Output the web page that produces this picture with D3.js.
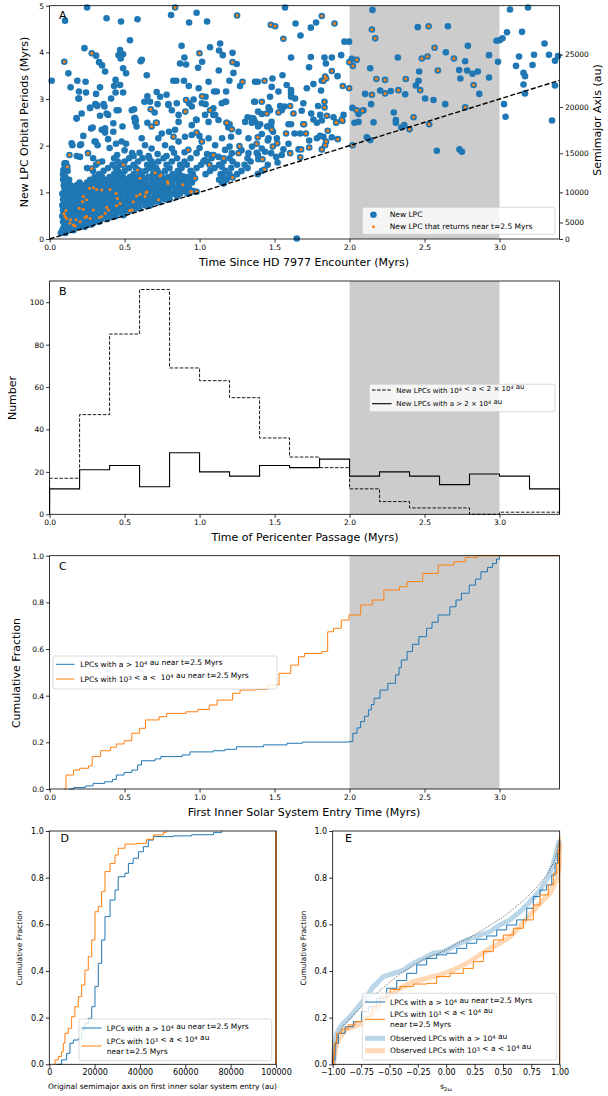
<!DOCTYPE html>
<html>
<head>
<meta charset="utf-8">
<script src="https://cdn.jsdelivr.net/npm/d3@7"></script>
<style>
body { margin: 0; background: #fff; }
text { font-family: "DejaVu Sans", sans-serif; fill: #000; }
</style>
</head>
<body>
<svg id="chart" width="608" height="1096"></svg>
<script>
// ---- panel A: new LPCs (time since encounter, orbital period in Myrs)
var lpcSparse = [[0.014,3.39],[0.103,4.68],[0.25,4.96],[0.232,4.09],[0.31,3.93],[0.33,3.79],[0.35,3.72],[0.37,3.59],[0.125,3.55],[0.14,3.25],[0.185,3.39],[0.196,3.16],[0.196,3.01],[0.243,3.14],[0.24,3.37],[0.27,2.81],[0.305,2.89],[0.318,2.85],[0.36,2.89],[0.214,2.69],[0.18,2.58],[0.31,3.11],[0.336,3.25],[0.38,4.73],[0.476,4.66],[0.586,4.71],[0.536,4.26],[0.47,4.05],[0.46,3.94],[0.49,3.96],[0.474,3.87],[0.49,3.66],[0.51,3.55],[0.44,3.41],[0.43,3.28],[0.47,3.3],[0.49,3.14],[0.44,3.14],[0.41,3.01],[0.39,2.66],[0.46,2.76],[0.425,2.48],[0.563,2.78],[0.607,3.81],[0.615,3.84],[0.648,3.51],[0.652,3.06],[0.67,2.94],[0.714,3.15],[0.72,2.89],[0.70,2.71],[0.792,2.89],[0.78,3.09],[0.81,4.8],[0.93,4.64],[0.98,4.85],[1.05,4.66],[0.88,4.14],[0.899,3.89],[0.91,3.74],[0.87,3.76],[1.017,3.8],[0.99,3.67],[1.07,4.11],[1.137,4.19],[1.13,4.04],[1.155,3.94],[1.22,3.99],[1.248,3.75],[1.128,3.61],[1.226,3.56],[0.825,3.39],[0.845,3.39],[0.896,3.39],[0.928,3.28],[1.06,3.37],[1.199,3.39],[1.27,3.28],[0.994,3.23],[1.097,3.16],[1.115,3.16],[1.177,3.16],[0.96,2.99],[0.93,2.91],[0.848,2.91],[1.04,2.89],[1.092,2.8],[1.148,2.91],[1.177,2.94],[0.977,2.56],[1.037,2.66],[1.092,2.66],[1.32,2.61],[1.36,2.58],[1.37,3.37],[1.364,2.94],[0.57,2.59],[0.575,2.54],[0.652,2.49],
  [1.57,4.96],[1.64,4.62],[1.742,4.53],[1.777,4.64],[1.673,4.36],[1.966,4.23],[1.997,4.23],[2.153,4.91],[2.455,4.54],[2.656,4.56],[2.789,4.14],[2.642,4.0],[1.944,3.94],[1.61,3.89],[1.742,3.9],[1.833,3.89],[1.882,3.89],[1.842,3.76],[1.73,3.68],[2.015,3.86],[2.138,3.66],[2.322,3.89],[2.771,3.81],[2.731,3.62],[2.784,3.61],[2.855,3.59],[2.82,3.54],[2.464,3.59],[1.92,3.49],[1.815,3.39],[1.553,3.51],[1.486,3.44],[1.388,3.37],[1.581,3.3],[1.715,3.23],[1.759,3.32],[1.81,3.18],[2.739,3.44],[2.46,3.39],[2.442,3.29],[2.865,3.11],[2.204,3.18],[2.275,3.17],[2.371,3.1],[2.104,3.11],[2.504,3.01],[2.56,2.98],[2.638,2.89],[2.144,2.89],[2.019,2.81],[2.06,2.68],[2.093,2.76],[2.295,2.71],[2.309,2.55],[2.16,2.5],[1.481,3.26],[1.47,3.05],[1.526,3.16],[1.61,3.19],[1.61,3.12],[1.61,3.05],[1.637,3.01],[1.692,2.91],[1.79,2.85],[1.37,2.94],[1.46,2.82],[1.47,2.76],[1.537,2.85],[1.566,2.84],[1.548,2.76],[1.415,2.68],[1.681,2.75],[1.744,2.69],[1.759,2.56],[1.804,2.66],[1.893,2.61],[1.96,2.66],[1.37,2.51],[1.404,2.46],
  [1.464,2.42],[1.593,2.46],[1.61,2.46],[1.782,2.49],[1.815,2.54],[2.033,2.49],[2.06,2.51],[2.309,2.49],[2.345,2.39],[2.365,2.44],[1.477,2.42],[1.415,2.25],[1.455,2.11],[1.515,2.16],[1.633,2.26],[1.671,2.26],[1.731,2.11],[1.782,2.16],[1.804,2.21],[1.826,2.19],[1.882,2.18],[1.66,1.92],[1.593,2.04],[1.559,1.92],[1.548,1.8],[1.477,1.84],[1.437,1.87],[1.392,1.71],[1.381,1.85],[1.511,1.76],[1.52,1.64],[1.455,1.59],[1.415,1.46],[1.388,1.39],[2.115,2.18],[2.138,2.12],[2.582,1.89],[2.733,1.92],[2.749,1.87],[1.648,0.01],
  [3.07,4.92],[3.19,4.96],[3.05,4.43],[3.15,4.44],[3.0,4.26],[2.98,4.25],[3.02,4.3],[2.99,3.8],[3.13,3.91],[3.23,3.95],[3.3,4.19],[3.33,3.95],[3.37,3.82],[3.39,3.92],[3.11,3.71],[3.22,3.73],[3.16,3.56],[3.17,3.49],[3.16,3.31],[3.17,3.12],[3.37,3.29],[3.03,2.89],[3.04,2.62],[3.35,2.54],[2.93,3.94],[2.93,3.46],
  [0.092,1.48],[0.147,2.05],[0.181,1.78],[0.203,2.01],[0.225,2.21],[0.287,2.39],[0.3,2.09],[0.348,2.34],[0.37,2.28],[0.39,2.14],[0.443,2.04],[0.48,2.09],[0.51,2.04],[0.55,1.84],[0.57,2.51],[0.837,2.34],[0.999,2.21],[1.192,2.39],[1.348,2.49],[1.16,1.19],[1.148,1.55],[1.025,1.66],[0.892,1.34],[0.492,0.51],[0.314,0.46],[0.518,1.06],[0.181,0.26],[0.11,1.62],[0.1,1.1],[0.095,1.34]];

// upper fringe of the cloud (periods above ~1.75 Myr, t < 1.5 Myr)
var lpcUpper = [[0.192,3.01],[0.18,2.59],[0.27,2.81],[0.314,2.87],[0.336,2.64],[0.366,2.84],[0.38,2.69],[0.447,2.76],[0.486,2.41],[0.425,2.3],[0.37,2.37],[0.277,2.37],[0.307,2.09],[0.32,2.01],[0.21,2.03],[0.152,2.01],[0.203,1.76],[0.1,1.62],[0.548,2.76],[0.566,2.59],[0.58,2.41],[0.632,2.94],[0.737,3.05],[0.793,2.87],[0.815,2.76],[0.86,2.66],[0.948,2.84],[1.015,2.91],[1.04,3.05],[1.104,2.66],[1.17,2.94],[1.2,2.46],[1.126,2.55],[1.06,2.51],[0.98,2.55],[0.948,2.44],[0.86,2.51],[0.796,2.3],[0.748,2.26],[0.614,2.16],[0.636,2.01],[0.68,1.94],[0.725,2.16],[0.77,2.01],[0.815,1.94],[0.86,2.09],[0.903,2.19],[0.948,2.23],[1.015,2.09],[1.06,2.16],[1.104,2.01],[1.15,2.16],[1.21,2.19],[1.26,2.3],[1.304,2.51],[1.348,2.59],[1.39,2.73],[1.48,2.51],[1.45,2.41],[1.39,2.41],[1.326,2.16],[1.415,1.94],[1.46,2.16],[1.49,2.3],[1.39,1.8],[1.326,1.84],[1.215,1.84],[1.17,1.91],[1.126,1.76],[1.08,1.8],[1.036,1.69],[0.98,1.84],
  [0.45,1.8],[0.5,1.9],[0.56,1.78],[0.6,1.85],[0.72,1.82],[0.78,1.78],[0.9,1.86],[1.2,1.98],[1.28,1.9],[0.4,1.95],[0.66,1.78],[0.83,1.85],[1.0,1.95],[1.05,1.82],[1.35,1.98]];

// dense core of the cloud, read row by row: [period, [times...]]
var lpcDenseRows = [
  [0.13,[0.075,0.105]],
  [0.19,[0.085,0.125,0.16]],
  [0.26,[0.095,0.13,0.17,0.205,0.235]],
  [0.31,[0.11,0.15,0.19,0.26,0.28]],
  [0.37,[0.09,0.125,0.165,0.215,0.245,0.3,0.33]],
  [0.43,[0.105,0.14,0.19,0.225,0.265,0.305,0.345,0.385]],
  [0.49,[0.085,0.12,0.16,0.2,0.24,0.29,0.32,0.36,0.41,0.44]],
  [0.55,[0.1,0.135,0.175,0.215,0.255,0.28,0.33,0.37,0.4,0.45,0.49]],
  [0.61,[0.09,0.12,0.16,0.2,0.23,0.27,0.31,0.345,0.385,0.43,0.465,0.51,0.55]],
  [0.66,[0.105,0.145,0.185,0.25,0.29,0.36,0.4,0.44,0.48,0.53,0.575,0.6]],
  [0.72,[0.085,0.12,0.165,0.2,0.235,0.275,0.315,0.35,0.395,0.42,0.46,0.5,0.545,0.59,0.64,0.67]],
  [0.79,[0.1,0.14,0.18,0.22,0.26,0.3,0.34,0.375,0.415,0.455,0.495,0.53,0.57,0.61,0.65,0.69,0.73]],
  [0.85,[0.09,0.125,0.17,0.205,0.245,0.285,0.33,0.36,0.4,0.44,0.475,0.515,0.555,0.6,0.635,0.675,0.72,0.77,0.8]],
  [0.91,[0.11,0.15,0.19,0.235,0.27,0.31,0.35,0.39,0.43,0.47,0.52,0.56,0.6,0.64,0.7,0.74,0.79,0.85]],
  [0.97,[0.085,0.13,0.175,0.21,0.25,0.29,0.335,0.37,0.41,0.455,0.49,0.535,0.575,0.62,0.66,0.71,0.76,0.82,0.87,0.92]],
  [1.03,[0.1,0.145,0.19,0.23,0.27,0.31,0.355,0.4,0.44,0.475,0.515,0.555,0.595,0.64,0.68,0.725,0.77,0.8,0.85,0.9,0.96]],
  [1.09,[0.12,0.165,0.21,0.25,0.33,0.37,0.42,0.46,0.5,0.54,0.58,0.62,0.67,0.71,0.75,0.79,0.84,0.88,0.93]],
  [1.15,[0.095,0.14,0.18,0.23,0.28,0.32,0.36,0.41,0.45,0.49,0.53,0.57,0.61,0.655,0.7,0.74,0.78,0.82,0.87,0.91]],
  [1.21,[0.11,0.2,0.25,0.3,0.345,0.39,0.44,0.48,0.52,0.56,0.6,0.64,0.69,0.73,0.77,0.81,0.86,0.9,0.95,1.15]],
  [1.27,[0.09,0.13,0.27,0.32,0.37,0.42,0.465,0.51,0.55,0.595,0.63,0.68,0.72,0.76,0.8,0.845,0.89,0.935,1.13,1.18]],
  [1.33,[0.105,0.3,0.35,0.4,0.445,0.49,0.535,0.58,0.62,0.66,0.71,0.75,0.79,0.83,0.875,0.92,1.16,1.21]],
  [1.39,[0.09,0.33,0.43,0.47,0.56,0.61,0.69,0.74,0.82,0.865,0.955,1.04,1.14,1.2,1.25]],
  [1.46,[0.12,0.29,0.36,0.455,0.5,0.6,0.64,0.72,0.77,0.855,0.94,1.07,1.17,1.28]],
  [1.52,[0.25,0.39,0.44,0.53,0.575,0.67,0.71,0.8,0.88,0.98,1.1,1.21,1.32]],
  [1.59,[0.1,0.31,0.42,0.47,0.56,0.65,0.69,0.78,0.87,0.915,1.01,1.13,1.25,1.3]],
  [1.66,[0.35,0.455,0.5,0.59,0.68,0.725,0.815,0.9,1.05,1.16,1.22,1.34]],
  [1.73,[0.29,0.43,0.53,0.62,0.665,0.76,0.85,0.94,1.08,1.2,1.32]]
];

// LPCs that return near t = 2.5 Myrs (orange, drawn on top of their blue marker)
var returnPts = [[0.098,3.8],[0.281,3.98],[0.674,2.78],[0.837,4.96],[1.25,4.79],[0.999,3.98],[1.22,3.79],[1.286,3.37],[1.017,3.06],[0.91,2.98],[1.07,2.76],[0.905,2.73],[1.181,2.49],[0.714,2.49],
  [1.475,4.59],[1.504,4.56],[1.815,4.78],[1.9,4.62],[1.559,4.29],[2.149,4.49],[2.171,4.3],[2.527,4.56],[2.567,4.1],[1.999,3.79],[2.048,3.84],[2.022,3.71],[2.482,3.87],[2.52,3.91],[2.696,3.87],[2.589,3.61],[1.882,3.6],[1.837,3.48],[1.844,3.44],[1.826,3.39],[1.433,3.39],[1.955,3.28],[1.997,3.23],[2.179,3.43],[2.237,3.41],[2.375,3.43],[2.471,3.19],[2.827,3.3],[2.237,3.12],[2.326,3.19],[2.149,3.09],[2.771,2.82],[2.048,2.76],[2.086,2.75],[2.427,2.61],[1.833,2.94],[1.833,2.82],[1.415,2.94],[1.604,2.85],[1.448,2.69],[1.526,2.71],[1.626,2.69],[1.849,2.64],[1.948,2.56],[1.692,2.46],[1.911,2.49],
  [1.697,2.46],[1.911,2.5],[1.953,2.53],[2.4,2.35],[2.531,2.46],[1.388,2.18],[1.381,2.04],[1.481,2.34],[1.518,2.05],[1.577,2.26],[1.709,2.26],[1.844,2.09],[1.855,2.32],[1.922,2.14],[1.837,2.01],[1.815,1.92],[1.731,1.96],[1.677,1.92],[1.604,1.84],[1.419,1.71],[1.433,1.49],[1.671,1.75],[2.02,2.01],[1.488,1.98],
  [0.132,1.8],[0.118,1.55],[0.256,1.84],[0.28,1.51],[0.325,1.64],[0.68,2.41],[0.71,2.49],[0.826,2.19],[0.925,1.91],[0.98,2.28],[1.015,2.09],[1.093,1.8],[1.16,1.73],[1.18,2.49],[1.215,2.35],[1.266,1.99],[1.26,1.84],[0.97,1.3],[0.947,1.01],[0.98,1.01],[1.22,1.32],[1.066,1.59],[0.79,1.19],[0.725,0.84],[0.742,1.37],[0.648,1.01],[0.603,1.3],[0.587,1.48],[0.492,1.59],[0.558,0.8],[0.534,0.61],[0.55,0.62],[0.452,0.87],[0.403,1.06],[0.348,1.05],[0.314,1.06],[0.265,1.09],[0.225,0.91],[0.22,0.8],[0.198,0.66],[0.176,0.41],[0.158,0.3],[0.17,0.28],[0.136,0.34],[0.103,0.48],[0.114,0.44],[0.14,0.41],[0.096,0.54],[0.109,0.61],[0.247,0.84],[0.292,0.62],[0.348,0.48],[0.37,0.55],[0.38,0.68],[0.392,0.62],[0.292,1.1],[0.443,0.98],[0.447,0.71],[0.47,0.76],[0.58,0.92],[0.603,0.96],[0.636,0.91],[0.643,0.99],[0.703,1.42],[0.736,1.35],[0.785,1.23],[0.888,1.16],[0.941,1.01],[0.247,0.48],[0.27,0.44],[0.236,0.46],[0.332,0.46],[0.203,0.37],[0.225,0.64]];

var diagLine = [[0, 0], [3.4, 3.4]];
var semimajorTicks = [0, 5000, 10000, 15000, 20000, 25000];

// ---- panel B: histogram of pericenter passage times (bins of 0.2 Myr)
var binEdges = [0,0.2,0.4,0.6,0.8,1.0,1.2,1.4,1.6,1.8,2.0,2.2,2.4,2.6,2.8,3.0,3.2,3.4];
var countsMid = [17,47,85,106,69,63,55,36,27,22,12,6,3,3,0,1,1];
var countsFar = [12,21,23,13,29,20,18,23,22,26,18,20,18,14,19,18,12];

// ---- panel C: cumulative first entry times
var entryFar = [[0.129,0],[0.16,0.006],[0.238,0.013],[0.29,0.024],[0.367,0.031],[0.419,0.041],[0.445,0.06],[0.497,0.071],[0.548,0.081],[0.587,0.103],[0.613,0.121],[0.703,0.129],[0.742,0.139],[0.884,0.146],[0.936,0.159],[1.091,0.164],[1.169,0.17],[1.246,0.181],[1.427,0.189],[1.583,0.196],[1.686,0.201],[1.996,0.203],[2.022,0.239],[2.05,0.262],[2.074,0.289],[2.1,0.312],[2.126,0.339],[2.145,0.362],[2.164,0.389],[2.203,0.424],[2.255,0.453],[2.307,0.489],[2.33,0.52],[2.345,0.553],[2.384,0.589],[2.42,0.62],[2.462,0.653],[2.514,0.689],[2.55,0.715],[2.591,0.746],[2.669,0.781],[2.71,0.81],[2.746,0.839],[2.798,0.874],[2.84,0.9],[2.876,0.931],[2.92,0.95],[2.953,0.967],[2.98,0.985],[3.0,1.0],[3.4,1.0]];
var entryNear = [[0.096,0],[0.109,0.06],[0.16,0.081],[0.2,0.089],[0.26,0.099],[0.284,0.139],[0.34,0.164],[0.406,0.179],[0.445,0.193],[0.497,0.207],[0.548,0.239],[0.6,0.26],[0.639,0.296],[0.73,0.31],[0.78,0.324],[0.91,0.331],[0.988,0.341],[1.065,0.36],[1.117,0.381],[1.22,0.41],[1.27,0.424],[1.376,0.427],[1.453,0.446],[1.53,0.496],[1.608,0.531],[1.66,0.567],[1.7,0.581],[1.815,0.589],[1.854,0.674],[1.893,0.689],[1.945,0.724],[1.996,0.746],[2.074,0.789],[2.152,0.81],[2.229,0.853],[2.333,0.867],[2.384,0.889],[2.488,0.924],[2.591,0.96],[2.695,0.974],[2.772,0.993],[2.85,1.0],[3.4,1.0]];

// ---- panel D: cumulative original semimajor axis (au)
var axisFar = [[3240,0],[5440,0.019],[7650,0.047],[9100,0.09],[10600,0.104],[12800,0.111],[14260,0.147],[15700,0.176],[17200,0.197],[18700,0.247],[20150,0.333],[21600,0.433],[23100,0.533],[24560,0.633],[26800,0.704],[29000,0.747],[30400,0.804],[33400,0.819],[34900,0.861],[37000,0.883],[39300,0.911],[41500,0.933],[43700,0.961],[45900,0.976],[54700,0.979],[62800,0.984],[72400,0.993],[76000,0.999]];
var axisNear = [[2200,0],[2500,0.019],[3970,0.033],[5440,0.054],[6180,0.09],[6900,0.133],[8380,0.154],[9850,0.204],[11300,0.247],[12800,0.29],[14260,0.34],[15700,0.404],[17200,0.461],[18700,0.533],[20150,0.654],[21600,0.676],[23100,0.74],[24560,0.826],[26800,0.861],[29000,0.897],[30400,0.926],[33400,0.944],[38500,0.947],[42900,0.964],[45900,0.983],[50300,0.993],[51500,1.0]];

// ---- panel E: cumulative s_2w
var s2wUniform = [[-1,0],[-0.98,0.08],[-0.95,0.13],[-0.9,0.17],[-0.8,0.22],[-0.7,0.27],[-0.6,0.31],[-0.5,0.35],[-0.4,0.39],[-0.3,0.42],[-0.2,0.45],[-0.1,0.47],[0,0.49],[0.1,0.52],[0.2,0.54],[0.3,0.57],[0.4,0.6],[0.5,0.63],[0.6,0.67],[0.7,0.71],[0.8,0.76],[0.9,0.82],[0.95,0.87],[0.98,0.92],[1,0.97]];
var s2wSimFar = [[-1,0],[-0.994,0.019],[-0.979,0.09],[-0.95,0.133],[-0.891,0.161],[-0.818,0.183],[-0.745,0.226],[-0.686,0.247],[-0.612,0.283],[-0.524,0.326],[-0.436,0.359],[-0.348,0.39],[-0.26,0.426],[-0.172,0.454],[-0.084,0.469],[0.004,0.476],[0.093,0.497],[0.181,0.519],[0.269,0.536],[0.357,0.55],[0.445,0.576],[0.533,0.597],[0.621,0.619],[0.709,0.669],[0.768,0.719],[0.827,0.747],[0.885,0.769],[0.93,0.811],[0.959,0.861],[0.98,0.904],[1.0,0.961]];
var s2wSimNear = [[-1,0],[-0.994,0.033],[-0.985,0.09],[-0.965,0.133],[-0.921,0.151],[-0.862,0.169],[-0.803,0.183],[-0.73,0.204],[-0.656,0.247],[-0.583,0.29],[-0.495,0.321],[-0.407,0.333],[-0.289,0.344],[-0.172,0.347],[-0.084,0.376],[0.034,0.39],[0.151,0.411],[0.239,0.44],[0.328,0.483],[0.416,0.533],[0.504,0.554],[0.592,0.583],[0.68,0.619],[0.768,0.683],[0.827,0.726],[0.9,0.769],[0.944,0.819],[0.974,0.861],[0.988,0.919],[1.0,0.976],[1.0,0]];
var s2wObsFar = [[-1,0],[-0.994,0.004],[-0.985,0.076],[-0.965,0.133],[-0.921,0.169],[-0.847,0.204],[-0.774,0.247],[-0.7,0.29],[-0.642,0.333],[-0.553,0.376],[-0.465,0.39],[-0.377,0.404],[-0.289,0.433],[-0.201,0.454],[-0.113,0.476],[-0.025,0.483],[0.063,0.504],[0.181,0.533],[0.298,0.554],[0.386,0.569],[0.474,0.597],[0.562,0.619],[0.65,0.654],[0.738,0.697],[0.827,0.747],[0.9,0.804],[0.944,0.861],[0.974,0.919],[0.997,0.961]];
var s2wObsNear = [[-1,0],[-0.994,0.004],[-0.979,0.061],[-0.95,0.104],[-0.891,0.147],[-0.818,0.161],[-0.745,0.176],[-0.671,0.204],[-0.583,0.261],[-0.495,0.297],[-0.407,0.326],[-0.289,0.354],[-0.172,0.369],[-0.054,0.383],[0.063,0.404],[0.181,0.433],[0.298,0.469],[0.386,0.497],[0.474,0.519],[0.562,0.547],[0.65,0.59],[0.738,0.64],[0.827,0.69],[0.915,0.733],[0.974,0.79],[0.997,0.847],[1.0,0.947]];

// ---------------------------------------------------------------
var svg = d3.select("#chart");
var blue = "#1f77b4", orange = "#ff7f0e", spanGrey = "#cccccc";

var xTime = d3.scaleLinear().domain([0, 3.4]).range([49.6, 559.5]);

// write text with ^{..} superscripts
function rich(t, str) {
  var parts = str.split(/\^\{([^}]*)\}/);
  parts.forEach(function(p, i) {
    if (!p) return;
    if (i % 2 == 1) {
      t.append("tspan").attr("dy", "-0.4em").attr("font-size", "0.7em").text(p);
      t.append("tspan").attr("dy", "0.4em").text("");
    } else {
      t.append("tspan").text(p);
    }
  });
  return t;
}

function axes(g, x, y, o) {
  var bx = g.append("g").attr("transform", "translate(0," + y.range()[0] + ")")
    .call(d3.axisBottom(x).tickValues(o.xt).tickFormat(o.xf).tickSize(3.5).tickPadding(2));
  var by = g.append("g").attr("transform", "translate(" + x.range()[0] + ",0)")
    .call(d3.axisLeft(y).tickValues(o.yt).tickFormat(o.yf).tickSize(3.5).tickPadding(2));
  [bx, by].forEach(function(a) {
    a.select(".domain").remove();
    a.selectAll("line").attr("stroke", "#000").attr("stroke-width", 0.8);
    a.selectAll("text").attr("font-size", o.fs).attr("font-family", "DejaVu Sans").attr("fill", "#000");
  });
}

function frame(g, x, y) {
  g.append("rect")
    .attr("x", x.range()[0]).attr("y", y.range()[1])
    .attr("width", x.range()[1] - x.range()[0])
    .attr("height", y.range()[0] - y.range()[1])
    .attr("fill", "none").attr("stroke", "#000").attr("stroke-width", 0.8);
}

function span(g, x, y) {
  g.append("rect")
    .attr("x", x(2)).attr("y", y.range()[1])
    .attr("width", x(3) - x(2)).attr("height", y.range()[0] - y.range()[1])
    .attr("fill", spanGrey);
}

function legendBox(g, x0, y0, w, h) {
  g.append("rect").attr("x", x0).attr("y", y0).attr("width", w).attr("height", h)
    .attr("rx", 2).attr("fill", "#fff").attr("fill-opacity", 0.8)
    .attr("stroke", "#d0d0d0").attr("stroke-width", 0.8);
}

function label(g, x0, y0, str, fs, rot) {
  var t = g.append("text").attr("font-size", fs).attr("text-anchor", "middle")
    .attr("transform", "translate(" + x0 + "," + y0 + ")" + (rot ? " rotate(-90)" : ""));
  return rich(t, str);
}

var f1 = d3.format(".1f");

// ================= A =================
var gA = svg.append("g");
var yA = d3.scaleLinear().domain([0, 5]).range([239, 5.7]);
var yA2 = d3.scalePow().exponent(1.5).domain([0, Math.pow(5e6, 2 / 3)]).range([239, 5.7]);

span(gA, xTime, yA);

var densePts = [];
lpcDenseRows.forEach(function(r) { r[1].forEach(function(t) { densePts.push([t, r[0]]); }); });
var allLpc = lpcSparse.concat(lpcUpper, densePts, returnPts);

gA.append("g").selectAll("circle").data(allLpc).enter().append("circle")
  .attr("cx", function(d) { return xTime(d[0]); })
  .attr("cy", function(d) { return yA(d[1]); })
  .attr("r", 3.3).attr("fill", blue);

gA.append("g").selectAll("circle").data(returnPts).enter().append("circle")
  .attr("cx", function(d) { return xTime(d[0]); })
  .attr("cy", function(d) { return yA(d[1]); })
  .attr("r", 1.5).attr("fill", orange);

gA.append("path").datum(diagLine)
  .attr("d", d3.line().x(function(d) { return xTime(d[0]); }).y(function(d) { return yA(d[1]); }))
  .attr("fill", "none").attr("stroke", "#000").attr("stroke-width", 1.4).attr("stroke-dasharray", "5,2.2");

frame(gA, xTime, yA);
axes(gA, xTime, yA, { xt: [0, 0.5, 1, 1.5, 2, 2.5, 3], xf: f1, yt: [0, 1, 2, 3, 4, 5], yf: d3.format("d"), fs: 7.5 });

var rA = gA.append("g").attr("transform", "translate(559.5,0)")
  .call(d3.axisRight(yA2).tickValues(semimajorTicks).tickFormat(d3.format("d")).tickSize(3.5).tickPadding(2));
rA.select(".domain").remove();
rA.selectAll("line").attr("stroke", "#000").attr("stroke-width", 0.8);
rA.selectAll("text").attr("font-size", 7.5).attr("font-family", "DejaVu Sans").attr("fill", "#000");

gA.append("text").attr("x", 59).attr("y", 19).attr("font-size", 11).text("A");
label(gA, 28, 122, "New LPC Orbital Periods (Myrs)", 11, true);
label(gA, 601, 120, "Semimajor Axis (au)", 11, true);
label(gA, 304, 266, "Time Since HD 7977 Encounter (Myrs)", 11, false);

legendBox(gA, 362.5, 207.3, 192.5, 27);
gA.append("circle").attr("cx", 373.4).attr("cy", 214.7).attr("r", 3.3).attr("fill", blue);
gA.append("circle").attr("cx", 373.4).attr("cy", 226.7).attr("r", 1.5).attr("fill", orange);
gA.append("text").attr("x", 389.7).attr("y", 217.4).attr("font-size", 7.5).text("New LPC");
gA.append("text").attr("x", 389.7).attr("y", 229.4).attr("font-size", 7.5).text("New LPC that returns near t=2.5 Myrs");

// ================= B =================
var gB = svg.append("g");
var yB = d3.scaleLinear().domain([0, 110]).range([514.3, 281]);
span(gB, xTime, yB);

function stepPts(counts) {
  var p = [[binEdges[0], 0]];
  counts.forEach(function(c, i) { p.push([binEdges[i], c]); });
  p.push([binEdges[binEdges.length - 1], counts[counts.length - 1]]);
  p.push([binEdges[binEdges.length - 1], 0]);
  return p;
}
var stepLine = d3.line().curve(d3.curveStepAfter)
  .x(function(d) { return xTime(d[0]); }).y(function(d) { return yB(d[1]); });

gB.append("path").datum(stepPts(countsMid)).attr("d", stepLine)
  .attr("fill", "none").attr("stroke", "#000").attr("stroke-width", 0.9).attr("stroke-dasharray", "3.5,1.6");
gB.append("path").datum(stepPts(countsFar)).attr("d", stepLine)
  .attr("fill", "none").attr("stroke", "#000").attr("stroke-width", 1.1);

frame(gB, xTime, yB);
axes(gB, xTime, yB, { xt: [0, 0.5, 1, 1.5, 2, 2.5, 3], xf: f1, yt: [0, 20, 40, 60, 80, 100], yf: d3.format("d"), fs: 7.5 });
gB.append("text").attr("x", 59).attr("y", 295).attr("font-size", 11).text("B");
label(gB, 16, 398, "Number", 11, true);
label(gB, 305, 541, "Time of Pericenter Passage (Myrs)", 11, false);

legendBox(gB, 369.5, 384.3, 185.5, 27.4);
gB.append("line").attr("x1", 372).attr("x2", 391.6).attr("y1", 390).attr("y2", 390)
  .attr("stroke", "#000").attr("stroke-width", 1).attr("stroke-dasharray", "3.5,1.6");
gB.append("line").attr("x1", 372).attr("x2", 391.6).attr("y1", 403.7).attr("y2", 403.7)
  .attr("stroke", "#000").attr("stroke-width", 1.1);
rich(gB.append("text").attr("x", 396.3).attr("y", 392.5).attr("font-size", 7), "New LPCs with 10^{4} < a < 2 × 10^{4} au");
rich(gB.append("text").attr("x", 396.3).attr("y", 406.2).attr("font-size", 7), "New LPCs with a > 2 × 10^{4} au");

// ================= C =================
var gC = svg.append("g");
var yC = d3.scaleLinear().domain([0, 1]).range([789, 555.7]);
span(gC, xTime, yC);
var cLine = d3.line().curve(d3.curveStepAfter)
  .x(function(d) { return xTime(d[0]); }).y(function(d) { return yC(d[1]); });
gC.append("path").datum(entryFar).attr("d", cLine).attr("fill", "none").attr("stroke", blue).attr("stroke-width", 1);
gC.append("path").datum(entryNear).attr("d", cLine).attr("fill", "none").attr("stroke", orange).attr("stroke-width", 1);

frame(gC, xTime, yC);
axes(gC, xTime, yC, { xt: [0, 0.5, 1, 1.5, 2, 2.5, 3], xf: f1, yt: [0, 0.2, 0.4, 0.6, 0.8, 1], yf: f1, fs: 7.5 });
gC.append("text").attr("x", 59).attr("y", 570).attr("font-size", 11).text("C");
label(gC, 20, 673, "Cumulative Fraction", 11, true);
label(gC, 304, 816, "First Inner Solar System Entry Time (Myrs)", 11, false);

legendBox(gC, 53, 656, 224, 33);
gC.append("line").attr("x1", 56).attr("x2", 74.5).attr("y1", 664.3).attr("y2", 664.3).attr("stroke", blue).attr("stroke-width", 1);
gC.append("line").attr("x1", 56).attr("x2", 74.5).attr("y1", 679).attr("y2", 679).attr("stroke", orange).attr("stroke-width", 1);
rich(gC.append("text").attr("x", 80.3).attr("y", 667).attr("font-size", 7.5), "LPCs with a > 10^{4} au near t=2.5 Myrs");
rich(gC.append("text").attr("x", 80.3).attr("y", 681.7).attr("font-size", 7.5), "LPCs with 10^{3} < a <\u00a0 10^{4} au near t=2.5 Myrs");

// ================= D =================
var gD = svg.append("g");
var xD = d3.scaleLinear().domain([0, 100000]).range([49.3, 276]);
var yD = d3.scaleLinear().domain([0, 1]).range([1064.3, 831]);
var dLine = d3.line().curve(d3.curveStepAfter)
  .x(function(d) { return xD(d[0]); }).y(function(d) { return yD(d[1]); });
gD.append("path").datum(axisFar).attr("d", dLine).attr("fill", "none").attr("stroke", blue).attr("stroke-width", 1);
gD.append("path").datum(axisNear).attr("d", dLine).attr("fill", "none").attr("stroke", orange).attr("stroke-width", 1);
gD.append("line").attr("x1", xD(100000)).attr("x2", xD(100000)).attr("y1", yD(0)).attr("y2", yD(1))
  .attr("stroke", orange).attr("stroke-width", 1.5);
frame(gD, xD, yD);
axes(gD, xD, yD, { xt: [0, 20000, 40000, 60000, 80000, 100000], xf: d3.format("d"), yt: [0, 0.2, 0.4, 0.6, 0.8, 1], yf: f1, fs: 8 });
gD.append("text").attr("x", 60.5).attr("y", 842).attr("font-size", 11).text("D");
label(gD, 22, 948, "Cumulative Fraction", 7.5, true);
label(gD, 162.5, 1089, "Original semimajor axis on first inner solar system entry (au)", 7.5, false);

legendBox(gD, 79, 1019, 192.7, 41.7);
gD.append("line").attr("x1", 81.7).attr("x2", 101.7).attr("y1", 1028).attr("y2", 1028).attr("stroke", blue).attr("stroke-width", 1);
gD.append("line").attr("x1", 81.7).attr("x2", 101.7).attr("y1", 1046).attr("y2", 1046).attr("stroke", orange).attr("stroke-width", 1);
rich(gD.append("text").attr("x", 106.7).attr("y", 1030.7).attr("font-size", 7.5), "LPCs with a > 10^{4} au near t=2.5 Myrs");
rich(gD.append("text").attr("x", 106.7).attr("y", 1044).attr("font-size", 7.5), "LPCs with 10^{3} < a < 10^{4} au");
gD.append("text").attr("x", 106.7).attr("y", 1054).attr("font-size", 7.5).text("near t=2.5 Myrs");

// ================= E =================
var gE = svg.append("g");
var xE = d3.scaleLinear().domain([-1, 1]).range([332.7, 559.7]);
var yE = d3.scaleLinear().domain([0, 1]).range([1064.3, 831]);
var eLine = d3.line().x(function(d) { return xE(d[0]); }).y(function(d) { return yE(d[1]); });
var eStep = d3.line().curve(d3.curveStepAfter).x(function(d) { return xE(d[0]); }).y(function(d) { return yE(d[1]); });
gE.append("path").datum(s2wObsFar).attr("d", eLine).attr("fill", "none").attr("stroke", blue).attr("stroke-opacity", 0.3).attr("stroke-width", 5);
gE.append("path").datum(s2wObsNear).attr("d", eLine).attr("fill", "none").attr("stroke", orange).attr("stroke-opacity", 0.3).attr("stroke-width", 5);
gE.append("path").datum(s2wUniform).attr("d", eLine).attr("fill", "none").attr("stroke", "#000").attr("stroke-width", 0.6).attr("stroke-dasharray", "1,1.2");
gE.append("path").datum(s2wSimFar).attr("d", eStep).attr("fill", "none").attr("stroke", blue).attr("stroke-width", 1);
gE.append("path").datum(s2wSimNear).attr("d", eStep).attr("fill", "none").attr("stroke", orange).attr("stroke-width", 1);
frame(gE, xE, yE);
axes(gE, xE, yE, { xt: [-1, -0.75, -0.5, -0.25, 0, 0.25, 0.5, 0.75, 1], xf: d3.format(".2f"), yt: [0, 0.2, 0.4, 0.6, 0.8, 1], yf: f1, fs: 8 });
gE.append("text").attr("x", 345).attr("y", 842).attr("font-size", 11).text("E");
label(gE, 306, 948, "Cumulative Fraction", 7.5, true);
var sx = gE.append("text").attr("x", 446).attr("y", 1089).attr("font-size", 7.5).attr("text-anchor", "middle");
sx.append("tspan").text("s");
sx.append("tspan").attr("dy", "0.3em").attr("font-size", "0.7em").text("2ω");

legendBox(gE, 362.3, 993.3, 194.4, 66.7);
gE.append("line").attr("x1", 365).attr("x2", 385).attr("y1", 1002).attr("y2", 1002).attr("stroke", blue).attr("stroke-width", 1);
gE.append("line").attr("x1", 365).attr("x2", 385).attr("y1", 1019.3).attr("y2", 1019.3).attr("stroke", orange).attr("stroke-width", 1);
gE.append("line").attr("x1", 365).attr("x2", 385).attr("y1", 1038.3).attr("y2", 1038.3).attr("stroke", blue).attr("stroke-opacity", 0.3).attr("stroke-width", 5);
gE.append("line").attr("x1", 365).attr("x2", 385).attr("y1", 1050.7).attr("y2", 1050.7).attr("stroke", orange).attr("stroke-opacity", 0.3).attr("stroke-width", 5);
rich(gE.append("text").attr("x", 390).attr("y", 1004.7).attr("font-size", 7.5), "LPCs with a > 10^{4} au near t=2.5 Myrs");
rich(gE.append("text").attr("x", 390).attr("y", 1017).attr("font-size", 7.5), "LPCs with 10^{3} < a < 10^{4} au");
gE.append("text").attr("x", 390).attr("y", 1027).attr("font-size", 7.5).text("near t=2.5 Myrs");
rich(gE.append("text").attr("x", 390).attr("y", 1041).attr("font-size", 7.5), "Observed LPCs with a > 10^{4} au");
rich(gE.append("text").attr("x", 390).attr("y", 1053.4).attr("font-size", 7.5), "Observed LPCs with 10^{3} < a < 10^{4} au");
</script>
</body>
</html>
